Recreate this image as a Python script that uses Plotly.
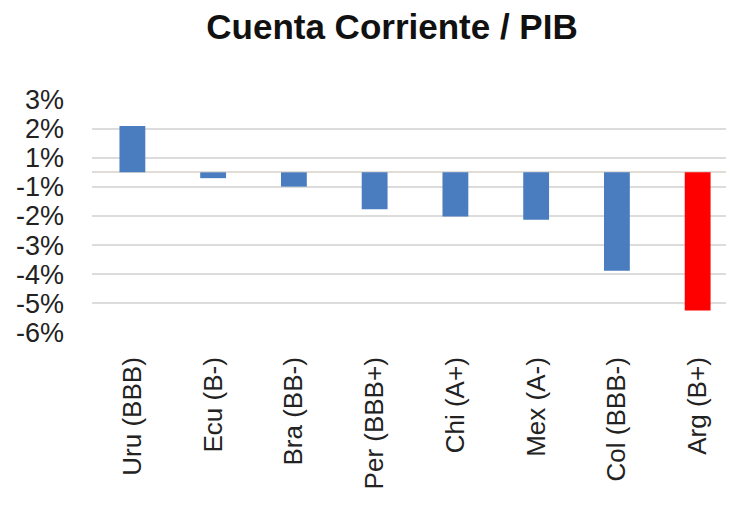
import plotly.graph_objects as go

categories = ["Uru (BBB)", "Ecu (B-)", "Bra (BB-)", "Per (BBB+)", "Chi (A+)", "Mex (A-)", "Col (BBB-)", "Arg (B+)"]
values = [1.59, -0.20, -0.49, -1.27, -1.52, -1.63, -3.38, -4.75]
colors = ["#4a7dc0"] * 7 + ["#ff0000"]
tick_vals = [2.5, 1.5, 0.5, -0.5, -1.5, -2.5, -3.5, -4.5, -5.5]
tick_text = ["3%", "2%", "1%", "-1%", "-2%", "-3%", "-4%", "-5%", "-6%"]

fig = go.Figure(go.Bar(x=categories, y=values, marker=dict(color=colors, line=dict(width=0)), width=0.32))

fig.update_layout(
    width=734, height=505,
    paper_bgcolor="white", plot_bgcolor="white",
    margin=dict(l=84, r=8, t=91, b=180),
    showlegend=False,
    font=dict(family="Liberation Sans, Arial, sans-serif", color="#222222"),
    title=dict(text="<b>Cuenta Corriente / PIB</b>", x=384 / 734, xanchor="center",
               y=1 - 6 / 505, yanchor="top", pad=dict(t=0, b=0),
               font=dict(size=35, color="#111111")),
)
fig.update_xaxes(
    range=[-0.5, 7.45], tickangle=-90, tickfont=dict(size=26),
    showgrid=False, showline=False, ticks="", ticklabelstandoff=18,
)
fig.update_yaxes(
    range=[-5.52, 2.52], tickvals=tick_vals, ticktext=tick_text, tickfont=dict(size=27),
    showgrid=True, gridcolor="#dcdcdc", gridwidth=1.5,
    zeroline=True, zerolinecolor="#e2dcd6", zerolinewidth=1.5,
    showline=False, ticks="", ticklabelstandoff=27,
)

fig.write_html("out.html")
